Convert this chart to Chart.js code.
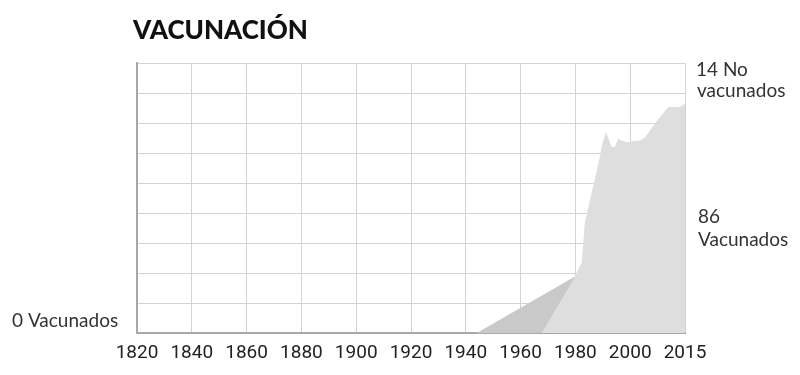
<!DOCTYPE html>
<html>
<head>
<meta charset="utf-8">
<script src="https://cdn.jsdelivr.net/npm/chart.js@4/dist/chart.umd.min.js"></script>
<style>
  html, body { margin: 0; padding: 0; background: #fff; }
  .wrap { position: relative; width: 800px; height: 375px; }
</style>
</head>
<body>
<div class="wrap"><canvas id="vacChart"></canvas></div>
<script>
// reference years for x axis ticks (last tick is shown as 2015)
const tickYears = [1820, 1840, 1860, 1880, 1900, 1920, 1940, 1960, 1980, 2000, 2015];

// light grey area (main series)
const mainYears = [1967.7, 1980, 1981.7, 1982.3, 1983.4, 1985.3, 1987.8, 1989, 1990, 1991.2, 1993.2, 1994.4, 1995.6, 1996.9, 1999.3, 2000.4, 2002.7, 2004, 2006.75, 2010.4, 2013.6, 2015];
const mainValues = [0, 18.9, 22.6, 23.2, 36.5, 44.2, 54.2, 59.2, 63.7, 67, 62, 62, 64.8, 64.2, 63.5, 63.9, 64.2, 65.1, 69.8, 75.3, 75.3, 76.5];

// darker triangle behind it
const earlyYears = [1820, 1944, 1980];
const earlyValues = [0, 0, 18.9];

const sideLabels = [
  { text: '0 Vacunados', x: 12, y: 327 },
  { text: '14 No', x: 696, y: 75.5 },
  { text: 'vacunados', x: 697, y: 96.5 },
  { text: '86', x: 698, y: 222.5 },
  { text: 'Vacunados', x: 698, y: 245.5 }
];

// the 2000-2015 stretch is drawn as wide as a 20 year step
function yearPos(y) {
  return y <= 2000 ? y : 2000 + (y - 2000) * 20 / 15;
}
function toPoints(xs, ys) {
  return xs.map((x, i) => ({ x: yearPos(x), y: ys[i] }));
}
const tickPositions = tickYears.map(yearPos);

const textPlugin = {
  id: 'texts',
  afterDraw(chart) {
    const ctx = chart.ctx;
    ctx.save();
    ctx.textBaseline = 'alphabetic';
    ctx.textAlign = 'left';
    ctx.fillStyle = '#111';
    ctx.font = '900 26px Lato';
    ctx.fillText('VACUNACIÓN', 133, 39.3);
    ctx.fillStyle = '#333';
    ctx.font = '19px Lato';
    sideLabels.forEach(l => ctx.fillText(l.text, l.x, l.y));
    ctx.restore();
  }
};

const ctx = document.getElementById('vacChart').getContext('2d');
const chart = new Chart(ctx, {
  type: 'line',
  data: {
    datasets: [{
      data: toPoints(mainYears, mainValues),
      fill: 'origin',
      backgroundColor: '#dedede',
      borderWidth: 0,
      pointRadius: 0,
      tension: 0,
      order: 0
    }, {
      data: toPoints(earlyYears, earlyValues),
      fill: 'origin',
      backgroundColor: '#c9c9c9',
      borderWidth: 0,
      pointRadius: 0,
      tension: 0,
      order: 1
    }]
  },
  options: {
    responsive: true,
    maintainAspectRatio: false,
    animation: false,
    layout: { padding: { left: 137, right: 115, top: 63, bottom: 0 } },
    plugins: {
      legend: { display: false },
      tooltip: { enabled: false }
    },
    scales: {
      x: {
        type: 'linear',
        min: 1820,
        max: 2020,
        afterBuildTicks: (scale) => {
          scale.ticks = tickPositions.map(v => ({ value: v }));
        },
        afterFit: (scale) => { scale.height = 42; },
        grid: { color: '#d3d3d3', lineWidth: 1, drawTicks: false },
        border: { color: '#a8a8a8', width: 2 },
        ticks: {
          padding: 9,
          color: '#222',
          font: { family: '"Liberation Sans Narrow", Roboto, sans-serif', size: 19 },
          callback: (v) => {
            const i = tickPositions.indexOf(v);
            return i >= 0 ? String(tickYears[i]) : '';
          }
        }
      },
      y: {
        min: 0,
        max: 90,
        afterFit: (scale) => { scale.width = 0; },
        grid: { color: '#d3d3d3', lineWidth: 1, drawTicks: false },
        border: { color: '#a8a8a8', width: 2 },
        ticks: { stepSize: 10, display: false }
      }
    }
  },
  plugins: [textPlugin]
});
</script>
</body>
</html>
